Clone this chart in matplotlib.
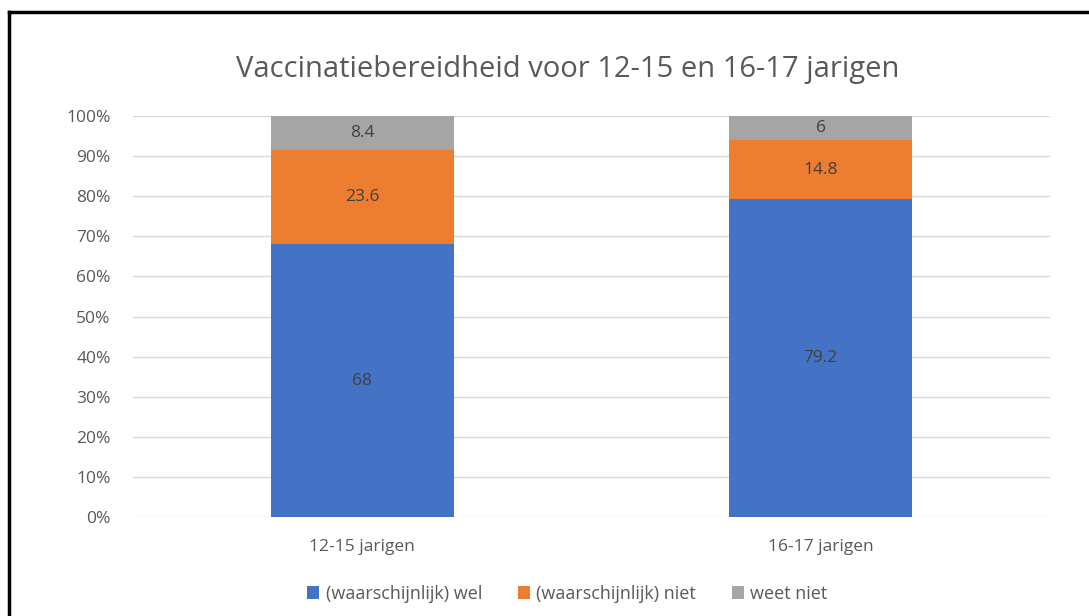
import matplotlib.pyplot as plt
from matplotlib.lines import Line2D
from matplotlib.patches import Patch
import numpy as np

plt.rcParams['font.family'] = ['Open Sans', 'DejaVu Sans']

# Gegevens
categories = ["12-15 jarigen", "16-17 jarigen"]
wel = [68, 79.2]
niet = [23.6, 14.8]
weet_niet = [8.4, 6]
series_names = ["(waarschijnlijk) wel", "(waarschijnlijk) niet", "weet niet"]
colors = ["#4472C4", "#ED7D31", "#A5A5A5"]
yticks = [0, 10, 20, 30, 40, 50, 60, 70, 80, 90, 100]

fig = plt.figure(figsize=(10.89, 6.16), dpi=100)
ax = fig.add_axes([0.1221, 0.1607, 0.8421, 0.651])

x = np.arange(len(categories))
bottom = np.zeros(len(categories))
for vals, name, col in zip([wel, niet, weet_niet], series_names, colors):
    bars = ax.bar(x, vals, width=0.4, bottom=bottom, color=col, label=name, zorder=3)
    for b, v, bt in zip(bars, vals, bottom):
        ax.text(b.get_x() + b.get_width() / 2, bt + v / 2, f"{v:g}",
                ha="center", va="center", fontsize=12.5, color="#404040", zorder=4)
    bottom += np.array(vals)

ax.set_xlim(-0.5, 1.5)
ax.set_ylim(0, 100)
ax.set_yticks(yticks)
ax.set_yticklabels([f"{t}%" for t in yticks])
ax.set_xticks(x)
ax.set_xticklabels(categories)
ax.tick_params(axis="both", length=0, labelsize=12.5, colors="#595959")
ax.tick_params(axis="y", pad=16)
ax.tick_params(axis="x", pad=16)
ax.grid(axis="y", color="#D9D9D9", linewidth=1, zorder=0)
for s in ax.spines.values():
    s.set_visible(False)

fig.text(0.5215, 0.887, "Vaccinatiebereidheid voor 12-15 en 16-17 jarigen",
         ha="center", va="center", fontsize=21, color="#595959")

handles = [Patch(facecolor=c, edgecolor="none") for c in colors]
fig.legend(handles, series_names, loc="center", bbox_to_anchor=(0.521, 0.036), ncol=3,
           frameon=False, fontsize=13, handlelength=0.65, handleheight=0.65,
           handletextpad=0.35, columnspacing=2.0, labelcolor="#595959")

# Kader
fig.add_artist(Line2D([9 / 1089, 9 / 1089], [0, 1 - 12 / 616], color="black", linewidth=2.5))
fig.add_artist(Line2D([9 / 1089, 1], [1 - 12 / 616, 1 - 12 / 616], color="black", linewidth=2.5))

fig.savefig("out.png", dpi=100)
